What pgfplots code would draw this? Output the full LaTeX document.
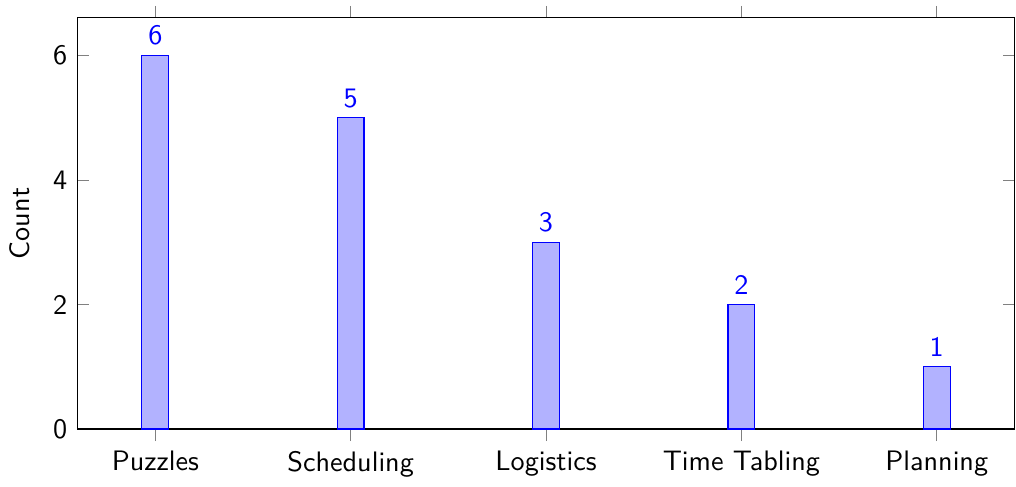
\documentclass[border=0pt]{standalone}
\usepackage{pgfplots}
\pgfplotsset{compat=1.18}
\renewcommand{\familydefault}{\sfdefault}
\begin{document}
\begin{tikzpicture}
\begin{axis}[
  scale only axis,
  width=333pt, height=146pt,
  ybar,
  bar width=9.5pt,
  ymin=0,
  enlarge x limits=0.1,
  enlarge y limits={upper,value=0.1},
  xtick=data,
  xticklabels={Puzzles,Scheduling,Logistics,Time Tabling,Planning},
  ytick={0,2,4,6},
  xtick align=outside,
  ytick align=inside,
  ylabel={Count},
  ylabel style={yshift=1.5pt},
  nodes near coords,
  every node near coord/.append style={blue},
  /pgf/number format/assume math mode=true,
]
\addplot[draw=blue, fill=blue!30] coordinates {(0,6) (1,5) (2,3) (3,2) (4,1)};
\end{axis}
% page frame: labels and ticks on the left, below and above; the frame on the right
\pgfresetboundingbox
\path[use as bounding box]
  (current axis.outer south west)
  rectangle ([yshift=2pt,xshift=0.4pt]current axis.outer north east -| current axis.north east);
\end{tikzpicture}
\end{document}
